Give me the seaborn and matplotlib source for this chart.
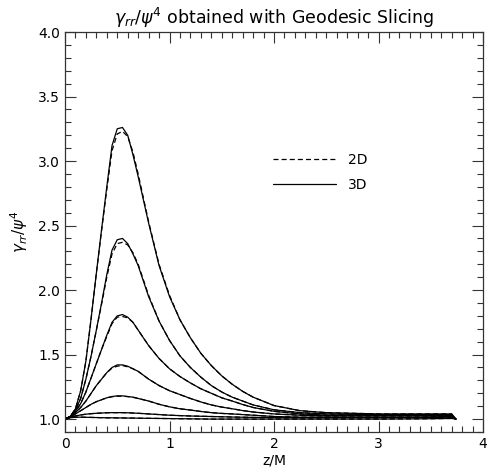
import matplotlib
matplotlib.use("Agg")
import matplotlib.pyplot as plt
import seaborn as sns
from matplotlib.ticker import MultipleLocator

# z/M sample points shared by all curves
z = [0.0, 0.05, 0.1, 0.15, 0.2, 0.25, 0.3, 0.35, 0.4, 0.45, 0.5, 0.55, 0.6, 0.65, 0.7,
     0.8, 0.9, 1.0, 1.1, 1.2, 1.3, 1.4, 1.5, 1.6, 1.7, 1.8, 2.0, 2.25, 2.5, 3.0, 3.4, 3.7, 3.74]

# 3D runs (solid)
a_3d = [1.0, 1.02, 1.08, 1.22, 1.45, 1.78, 2.13, 2.47, 2.80, 3.12, 3.25, 3.26, 3.20, 3.05, 2.88,
        2.52, 2.19, 1.95, 1.77, 1.63, 1.51, 1.415, 1.335, 1.27, 1.215, 1.17, 1.105, 1.065, 1.05,
        1.04, 1.04, 1.04, 1.0]
b_3d = [1.0, 1.02, 1.07, 1.16, 1.31, 1.49, 1.69, 1.90, 2.12, 2.31, 2.39, 2.40, 2.36, 2.28, 2.19,
        1.95, 1.76, 1.61, 1.49, 1.40, 1.325, 1.26, 1.21, 1.17, 1.14, 1.11, 1.072, 1.05, 1.04,
        1.035, 1.035, 1.035, 1.0]
c_3d = [1.0, 1.02, 1.06, 1.12, 1.21, 1.32, 1.43, 1.54, 1.65, 1.75, 1.80, 1.81, 1.79, 1.75, 1.69,
        1.57, 1.47, 1.39, 1.33, 1.28, 1.235, 1.20, 1.165, 1.14, 1.113, 1.09, 1.06, 1.04, 1.03,
        1.03, 1.03, 1.03, 1.0]
d_3d = [1.0, 1.02, 1.05, 1.09, 1.14, 1.20, 1.26, 1.31, 1.36, 1.40, 1.42, 1.42, 1.41, 1.39, 1.37,
        1.31, 1.26, 1.22, 1.19, 1.16, 1.133, 1.11, 1.093, 1.08, 1.066, 1.055, 1.04, 1.03, 1.025,
        1.025, 1.025, 1.025, 1.0]
e_3d = [1.0, 1.02, 1.04, 1.065, 1.09, 1.115, 1.135, 1.15, 1.165, 1.175, 1.18, 1.18, 1.175, 1.17, 1.16,
        1.14, 1.115, 1.095, 1.08, 1.07, 1.059, 1.05, 1.044, 1.04, 1.035, 1.03, 1.02, 1.015, 1.015,
        1.015, 1.015, 1.02, 1.0]
f_3d = [1.0, 1.015, 1.025, 1.032, 1.038, 1.042, 1.045, 1.047, 1.049, 1.05, 1.05, 1.05, 1.049, 1.047, 1.045,
        1.04, 1.035, 1.03, 1.027, 1.024, 1.022, 1.02, 1.018, 1.016, 1.0145, 1.013, 1.011, 1.01, 1.01,
        1.01, 1.012, 1.015, 1.0]
g_3d = [1.0, 1.01, 1.015, 1.015, 1.014, 1.013, 1.012, 1.011, 1.01, 1.01, 1.009, 1.009, 1.008, 1.008, 1.007,
        1.006, 1.005, 1.004, 1.003, 1.002, 1.001, 1.0, 1.0, 1.0, 1.0, 1.0, 1.0, 1.0, 1.0,
        1.0, 1.002, 1.005, 1.0]

# 2D runs (dashed)
a_2d = [1.0, 1.02, 1.08, 1.22, 1.45, 1.78, 2.13, 2.46, 2.78, 3.08, 3.21, 3.23, 3.19, 3.07, 2.90,
        2.53, 2.20, 1.96, 1.77, 1.63, 1.51, 1.415, 1.335, 1.27, 1.215, 1.17, 1.105, 1.065, 1.05,
        1.04, 1.04, 1.04, 1.0]
b_2d = [1.0, 1.02, 1.07, 1.16, 1.31, 1.49, 1.69, 1.89, 2.10, 2.28, 2.36, 2.37, 2.35, 2.29, 2.20,
        1.96, 1.76, 1.61, 1.49, 1.40, 1.325, 1.26, 1.21, 1.17, 1.14, 1.11, 1.072, 1.05, 1.04,
        1.035, 1.035, 1.035, 1.0]
c_2d = [1.0, 1.02, 1.06, 1.12, 1.21, 1.32, 1.43, 1.54, 1.64, 1.74, 1.79, 1.795, 1.785, 1.75, 1.69,
        1.57, 1.47, 1.39, 1.33, 1.28, 1.235, 1.20, 1.165, 1.14, 1.113, 1.09, 1.06, 1.04, 1.03,
        1.03, 1.03, 1.03, 1.0]
d_2d = [1.0, 1.02, 1.05, 1.09, 1.14, 1.20, 1.26, 1.31, 1.36, 1.395, 1.41, 1.415, 1.405, 1.39, 1.37,
        1.31, 1.26, 1.22, 1.19, 1.16, 1.133, 1.11, 1.093, 1.08, 1.066, 1.055, 1.04, 1.03, 1.025,
        1.025, 1.025, 1.025, 1.0]
e_2d = [1.0, 1.02, 1.04, 1.065, 1.09, 1.115, 1.135, 1.15, 1.165, 1.173, 1.177, 1.178, 1.174, 1.169, 1.16,
        1.14, 1.115, 1.095, 1.08, 1.07, 1.059, 1.05, 1.044, 1.04, 1.035, 1.03, 1.02, 1.015, 1.015,
        1.015, 1.015, 1.02, 1.0]
f_2d = f_3d
g_2d = g_3d

runs_3d = [a_3d, b_3d, c_3d, d_3d, e_3d, f_3d, g_3d]
runs_2d = [a_2d, b_2d, c_2d, d_2d, e_2d, f_2d, g_2d]

sns.set_style("ticks")
plt.rcParams['font.family'] = ['DejaVu Sans']
plt.rcParams['mathtext.fontset'] = 'dejavusans'
plt.rcParams['text.color'] = 'black'
plt.rcParams['axes.labelcolor'] = 'black'

fig = plt.figure(figsize=(4.87, 4.72), dpi=100)
ax = fig.add_axes([65 / 487, 1 - 432 / 472, 418 / 487, 400 / 472])

for i, vals in enumerate(runs_2d):
    sns.lineplot(x=z, y=vals, ax=ax, color='black', lw=0.9, linestyle=(0, (4, 2.5)),
                 sort=False, label='2D' if i == 0 else None)
for i, vals in enumerate(runs_3d):
    sns.lineplot(x=z, y=vals, ax=ax, color='black', lw=0.9,
                 sort=False, label='3D' if i == 0 else None)

ax.set_xlim(0, 4)
ax.set_ylim(0.9, 4.0)
ax.xaxis.set_major_locator(MultipleLocator(1))
ax.xaxis.set_minor_locator(MultipleLocator(0.1))
ax.yaxis.set_major_locator(MultipleLocator(0.5))
ax.yaxis.set_minor_locator(MultipleLocator(0.1))
ax.tick_params(which='both', direction='in', top=True, right=True, labelsize=10, width=0.8,
               color='#333333', labelcolor='black')
ax.tick_params(which='major', length=8)
ax.tick_params(which='minor', length=4)
ax.set_yticks([1.0, 1.5, 2.0, 2.5, 3.0, 3.5, 4.0])
ax.set_yticklabels(['1.0', '1.5', '2.0', '2.5', '3.0', '3.5', '4.0'])
for s in ax.spines.values():
    s.set_linewidth(0.9)
    s.set_color('#333333')

ax.set_title(r'$\gamma_{rr}/\psi^4$ obtained with Geodesic Slicing', fontsize=12.5, pad=6)
ax.set_xlabel('z/M', fontsize=10, labelpad=2)
ax.set_ylabel(r'$\gamma_{rr}/\psi^4$', fontsize=11, labelpad=6)

ax.legend(loc='upper left', bbox_to_anchor=(0.468, 0.73), frameon=False, fontsize=10,
          handlelength=4.5, labelspacing=0.85, handletextpad=0.9)

fig.savefig('out.png', dpi=100)
